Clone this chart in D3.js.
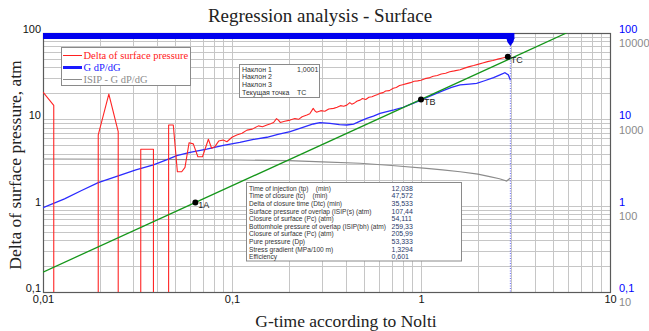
<!DOCTYPE html>
<html>
<head>
<meta charset="utf-8">
<script src="https://cdn.jsdelivr.net/npm/d3@7"></script>
<style>
  body { margin: 0; background: #fff; }
  svg { display: block; }
</style>
</head>
<body>
<svg id="chart" width="649" height="331"></svg>
<script>
// ---- data ----
// Delta of surface pressure vs G-time (0.01 marks "no reading", clipped to the axis floor)
const gRed = [0.0100, 0.0114, 0.0114, 0.0196, 0.0196, 0.0223, 0.0250, 0.0250, 0.0329, 0.0329,
  0.0384, 0.0384, 0.0462, 0.0462, 0.0489, 0.0514, 0.0542, 0.0564, 0.0593, 0.0624,
  0.0660, 0.0698, 0.0750, 0.0780, 0.0810, 0.0850, 0.0898, 0.094, 0.100, 0.106,
  0.113, 0.120, 0.128, 0.138, 0.145, 0.153, 0.160, 0.166, 0.172, 0.176,
  0.180, 0.190, 0.203, 0.215, 0.225, 0.235, 0.249, 0.258, 0.269, 0.275,
  0.280, 0.295, 0.310, 0.325, 0.345, 0.360, 0.375, 0.390, 0.405, 0.420,
  0.430, 0.445, 0.460, 0.476, 0.490, 0.510, 0.530, 0.550, 0.570, 0.590,
  0.607, 0.630, 0.650, 0.680, 0.713, 0.740, 0.770, 0.800, 0.840, 0.880,
  0.920, 0.960, 1.000, 1.050, 1.100, 1.160, 1.220, 1.280, 1.350, 1.420,
  1.500, 1.610, 1.700, 1.800, 1.900, 2.000, 2.120, 2.250, 2.400, 2.550,
  2.700, 2.880];
const pRed = [20.7, 14.5, 0.01, 0.01, 6.6, 19.6, 7.2, 0.01, 0.01, 4.5,
  4.5, 0.01, 0.01, 8.6, 8.6, 2.47, 2.47, 2.78, 5.36, 5.2,
  3.69, 3.69, 5.88, 4.63, 4.8, 5.6, 5.75, 5.5, 6.2, 6.6,
  6.9, 7.5, 7.7, 8.4, 8.2, 8.6, 8.9, 9.2, 10.2, 9.8,
  9.2, 9.5, 9.8, 10.2, 10.0, 10.7, 11.2, 11.6, 13.4, 12.5,
  12.1, 12.6, 12.4, 13.2, 13.4, 13.8, 14.4, 14.2, 14.6, 15.6,
  15.0, 15.5, 16.3, 16.7, 17.4, 17.0, 18.0, 18.3, 18.9, 19.4,
  20.0, 20.4, 21.3, 21.5, 22.9, 23.4, 24.6, 25.2, 25.9, 26.6,
  27.6, 27.9, 28.3, 29.6, 30.2, 31.5, 32.2, 33.5, 34.2, 35.6,
  36.4, 37.6, 39.2, 40.8, 42.0, 43.3, 44.9, 46.6, 48.0, 49.8,
  51.4, 53.2];

// G dP/dG
const gBlue = [0.0100, 0.0130, 0.0160, 0.0196, 0.0250, 0.0310, 0.0384, 0.0450, 0.0510, 0.0600,
  0.0735, 0.090, 0.110, 0.130, 0.153, 0.175, 0.203, 0.235, 0.269, 0.292,
  0.330, 0.370, 0.405, 0.440, 0.480, 0.520, 0.560, 0.607, 0.660, 0.720,
  0.805, 0.900, 1.000, 1.100, 1.200, 1.310, 1.450, 1.610, 1.800, 1.970,
  2.150, 2.420, 2.600, 2.780, 2.900, 2.970];
const pBlue = [0.95, 1.2, 1.5, 1.85, 2.21, 2.6, 2.96, 3.4, 3.8, 4.15,
  4.53, 5.0, 5.42, 5.85, 6.2, 6.7, 7.2, 8.0, 8.83, 9.15,
  9.0, 8.7, 8.6, 8.8, 9.6, 10.3, 10.9, 11.7, 12.3, 12.9,
  13.8, 15.2, 16.7, 18.3, 19.8, 21.5, 23.5, 25.0, 25.6, 26.1,
  27.8, 30.4, 32.5, 34.7, 32.7, 28.6];

// ISIP - G dP/dG (right-hand grey scale)
const gGray = [0.010, 0.030, 0.060, 0.110, 0.200, 0.300, 0.475, 0.700, 1.070, 1.300,
  1.610, 2.000, 2.310, 2.600, 2.840, 2.970];
const pGray = [347, 345, 342, 338, 332, 322, 310, 292, 271, 260,
  247, 232, 217, 205, 193, 209];

// regression line (slope 1)
const gFit = [0.01, 5.88];
const pFit = [0.17, 100];

// marked points
const pointNames = ["1A", "TB", "TC"];
const pointG = [0.064, 1.0, 2.88];
const pointP = [1.09, 17.0, 53.2];

// closure marker on G-time
const gRangeEnd = 3.12;
const gClosure = 2.97;

// tick values
const xTicks = [0.01, 0.1, 1, 10];
const yTicks = [0.1, 1, 10, 100];
const yGrayTicks = [10, 100, 1000, 10000];

// legend
const legendNames = ["Delta of surface pressure", "G dP/dG", "ISIP - G dP/dG"];
const legendColors = ["#ff2020", "#1a1aff", "#8c8c8c"];

// info panels
const slopeLabels = ["Наклон 1", "Наклон 2", "Наклон 3", "Текущая точка"];
const slopeValues = ["1,0001", "", "", "TC"];
const infoLabels = [
  "Time of injection (tp)    (min)",
  "Time of closure (tc)    (min)",
  "Delta of closure time (Dtc) (min)",
  "Surface pressure of overlap (ISIP(s) (atm)",
  "Closure of surface (Pc) (atm)",
  "Bottomhole pressure of overlap (ISIP(bh) (atm)",
  "Closure of surface (Pc) (atm)",
  "Pure pressure (Dp)",
  "Stress gradient (MPa/100 m)",
  "Efficiency"];
const infoValues = ["12,038", "47,572", "35,533", "107,44", "54,111", "259,33",
  "205,99", "53,333", "1,3294", "0,601"];

// ---- layout ----
const W = 649, H = 331;
const L = 43, R = 610, T = 33, B = 292;
const svg = d3.select("#chart");

const x = d3.scaleLog().domain([0.01, 10]).range([L, R]);
const y = d3.scaleLog().domain([0.1, 100]).range([B, T]);
const yGray = d3.scaleLog().domain([10, 10000]).range([B, T]);
const fmt = v => d3.format("~g")(v).replace(".", ",");

svg.append("defs").append("clipPath").attr("id", "plotClip")
  .append("rect").attr("x", L).attr("y", T).attr("width", R - L).attr("height", B - T);

// title
svg.append("text").attr("x", 320).attr("y", 22).attr("text-anchor", "middle")
  .attr("font-family", "Liberation Serif, Times New Roman, serif").attr("font-size", 19)
  .attr("fill", "#222").text("Regression analysis - Surface");

// grid
const grid = svg.append("g").attr("stroke", "#c6c6c6").attr("stroke-width", 1).attr("shape-rendering", "crispEdges");
grid.selectAll("line.gx").data(x.ticks()).join("line")
  .attr("x1", d => Math.round(x(d)) + 0.5).attr("x2", d => Math.round(x(d)) + 0.5)
  .attr("y1", T).attr("y2", B);
grid.selectAll("line.gy").data(y.ticks()).join("line")
  .attr("y1", d => Math.round(y(d)) + 0.5).attr("y2", d => Math.round(y(d)) + 0.5)
  .attr("x1", L).attr("x2", R);

// frame
svg.append("rect").attr("x", L + 0.5).attr("y", T + 0.5).attr("width", R - L).attr("height", B - T)
  .attr("fill", "none").attr("stroke", "#5a5a5a").attr("stroke-width", 1.2);

// axes
const axisFont = "Liberation Sans, Arial, sans-serif";
const leftAxis = svg.append("g").attr("transform", `translate(${L},0)`)
  .call(d3.axisLeft(y).tickValues(yTicks).tickFormat(fmt).tickSize(0).tickPadding(2));
leftAxis.select(".domain").remove();
leftAxis.selectAll("text").attr("dy", "-0.05em").attr("font-family", axisFont).attr("font-size", 11).attr("fill", "#111");

const bottomAxis = svg.append("g").attr("transform", `translate(0,${B})`)
  .call(d3.axisBottom(x).tickValues(xTicks).tickFormat(fmt).tickSize(0).tickPadding(3));
bottomAxis.select(".domain").remove();
bottomAxis.selectAll("text").attr("font-family", axisFont).attr("font-size", 11).attr("fill", "#111");

const rightBlue = svg.append("g").attr("transform", `translate(${R + 7},0)`)
  .call(d3.axisRight(y).tickValues(yTicks).tickFormat(fmt).tickSize(0).tickPadding(2));
rightBlue.select(".domain").remove();
rightBlue.selectAll("text").attr("dy", "-0.05em").attr("font-family", axisFont).attr("font-size", 11).attr("fill", "#0000ff");

const rightGray = svg.append("g").attr("transform", `translate(${R + 7},0)`)
  .call(d3.axisRight(yGray).tickValues(yGrayTicks).tickFormat(fmt).tickSize(0).tickPadding(2));
rightGray.select(".domain").remove();
rightGray.selectAll("text").attr("dy", "1.25em").attr("font-family", axisFont).attr("font-size", 11).attr("fill", "#8a8a8a");

// axis titles
svg.append("text").attr("x", 346).attr("y", 327).attr("text-anchor", "middle")
  .attr("font-family", "Liberation Serif, Times New Roman, serif").attr("font-size", 17.5)
  .attr("fill", "#222").text("G-time according to Nolti");
svg.append("text").attr("transform", "translate(21,165) rotate(-90)").attr("text-anchor", "middle")
  .attr("font-family", "Liberation Serif, Times New Roman, serif").attr("font-size", 17.5)
  .attr("fill", "#222").text("Delta of surface pressure, atm");

// series
const plot = svg.append("g").attr("clip-path", "url(#plotClip)");
const lineMain = d3.line().x(d => x(d[0])).y(d => y(d[1]));
const lineGray = d3.line().x(d => x(d[0])).y(d => yGray(d[1]));

plot.append("path").datum(d3.zip(gGray, pGray)).attr("d", lineGray)
  .attr("fill", "none").attr("stroke", "#8c8c8c").attr("stroke-width", 1.2);
plot.append("path").datum(d3.zip(gBlue, pBlue)).attr("d", lineMain)
  .attr("fill", "none").attr("stroke", "#2b2bff").attr("stroke-width", 1.3);
plot.append("path").datum(d3.zip(gRed, pRed)).attr("d", lineMain)
  .attr("fill", "none").attr("stroke", "#ff2525").attr("stroke-width", 1.1).attr("stroke-linejoin", "round");
plot.append("path").datum(d3.zip(gFit, pFit)).attr("d", lineMain)
  .attr("fill", "none").attr("stroke", "#15961a").attr("stroke-width", 1.3);

// closure marker: dotted line, range bar, pointer
plot.append("line").attr("x1", x(gClosure)).attr("x2", x(gClosure)).attr("y1", T).attr("y2", B)
  .attr("stroke", "#3a3aff").attr("stroke-width", 0.8).attr("stroke-dasharray", "1,1.5");
svg.append("rect").attr("x", L).attr("y", T).attr("width", x(gRangeEnd) - L).attr("height", 6)
  .attr("fill", "#0000ee");
const cx = x(gClosure);
svg.append("path").attr("d", `M${cx - 4},${T + 5} L${cx + 4},${T + 5} L${cx + 3},${T + 9} L${cx},${T + 13} L${cx - 3},${T + 9} Z`)
  .attr("fill", "#0000ee");

// points
const pts = svg.append("g");
pointNames.forEach((n, i) => {
  pts.append("circle").attr("cx", x(pointG[i])).attr("cy", y(pointP[i])).attr("r", 3).attr("fill", "#000");
  pts.append("text").attr("x", x(pointG[i]) + 3).attr("y", y(pointP[i]) + 6)
    .attr("font-family", axisFont).attr("font-size", 9).attr("fill", "#222").text(n);
});

// legend
const lg = svg.append("g");
lg.append("rect").attr("x", 61.5).attr("y", 47.5).attr("width", 129).attr("height", 38)
  .attr("fill", "#fff").attr("stroke", "#8a8a8a");
legendNames.forEach((n, i) => {
  const ly = 55.5 + i * 12;
  lg.append("line").attr("x1", 63).attr("x2", 82).attr("y1", ly).attr("y2", ly)
    .attr("stroke", legendColors[i]).attr("stroke-width", i === 1 ? 3 : 1);
  lg.append("text").attr("x", 83.5).attr("y", ly + 3.5)
    .attr("font-family", "Liberation Serif, Times New Roman, serif").attr("font-size", 10.5)
    .attr("fill", legendColors[i]).text(n);
});

// slope panel
const sp = svg.append("g");
sp.append("rect").attr("x", 239.5).attr("y", 64.5).attr("width", 80).attr("height", 33)
  .attr("fill", "#fff").attr("stroke", "#8a8a8a");
slopeLabels.forEach((s, i) => {
  const ty = 71.5 + i * 7.7;
  sp.append("text").attr("x", 242).attr("y", ty).attr("font-family", axisFont).attr("font-size", 7)
    .attr("fill", "#333").text(s);
  sp.append("text").attr("x", 297).attr("y", ty).attr("font-family", axisFont).attr("font-size", 7)
    .attr("fill", "#333").text(slopeValues[i]);
});

// result panel
const ip = svg.append("g");
ip.append("rect").attr("x", 246.5).attr("y", 182.5).attr("width", 215).attr("height", 78.5)
  .attr("fill", "#fff").attr("stroke", "#8a8a8a");
infoLabels.forEach((s, i) => {
  const ty = 190.7 + i * 7.6;
  ip.append("text").attr("x", 249).attr("y", ty).attr("font-family", axisFont).attr("font-size", 6.6)
    .attr("fill", "#333").attr("xml:space", "preserve").style("white-space", "pre").text(s);
  ip.append("text").attr("x", 391.5).attr("y", ty).attr("font-family", axisFont).attr("font-size", 7)
    .attr("fill", "#2a3a6a").text(infoValues[i]);
});
</script>
</body>
</html>
